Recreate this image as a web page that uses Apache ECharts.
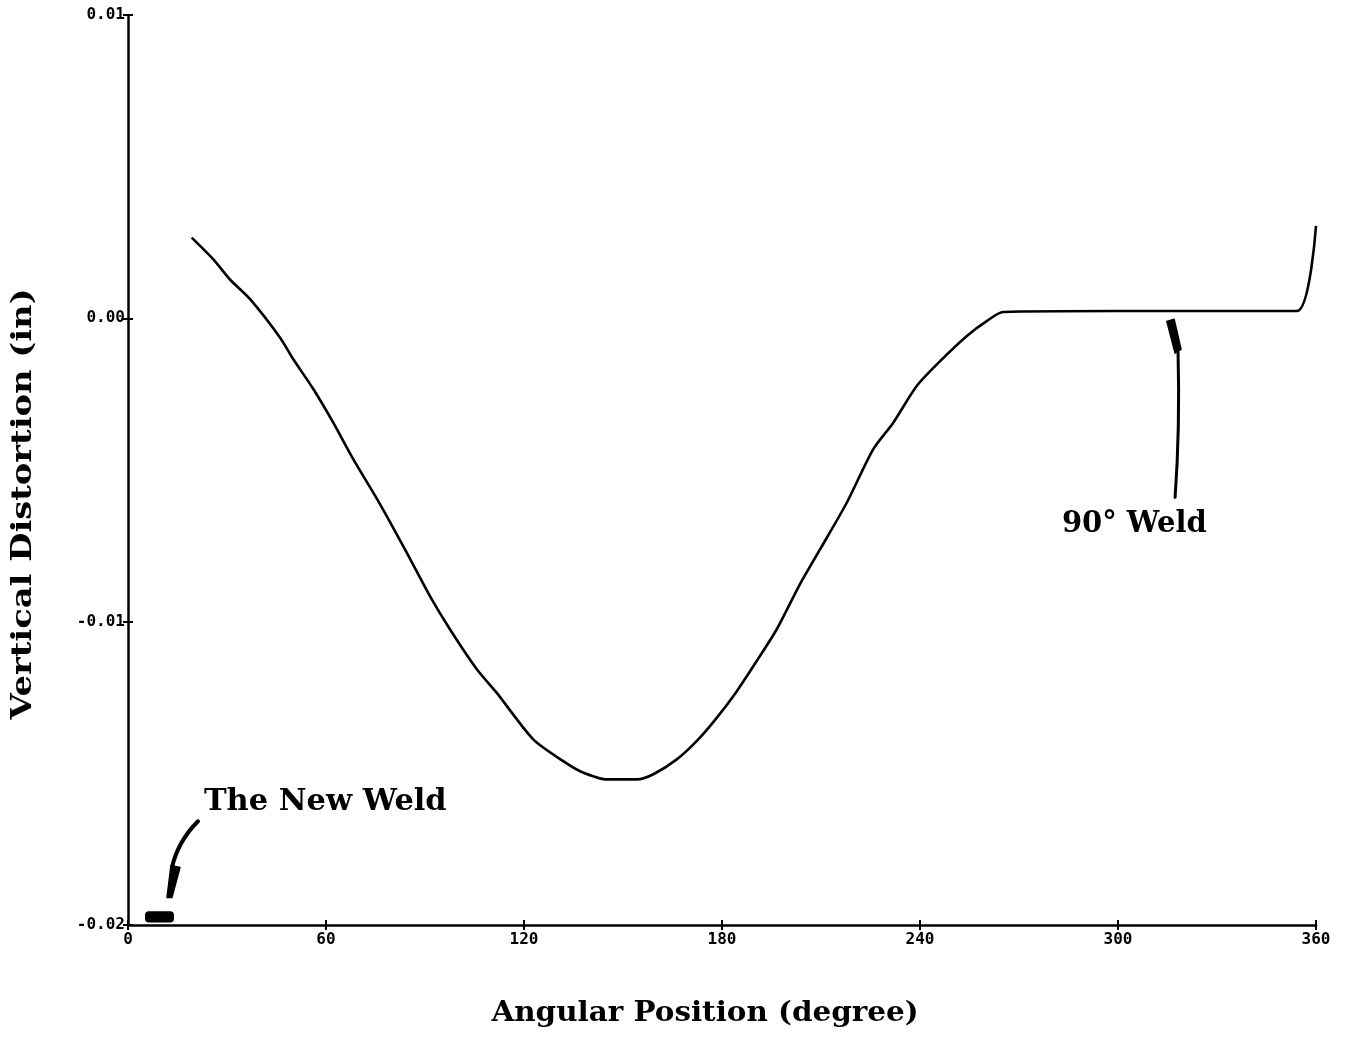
<!DOCTYPE html>
<html>
<head>
<meta charset="utf-8">
<title>Vertical Distortion vs Angular Position</title>
<script src="https://cdn.jsdelivr.net/npm/echarts@6/dist/echarts.min.js"></script>
<style>
  html, body { margin: 0; padding: 0; background: #fff; }
  #chart { width: 1346px; height: 1037px; }
</style>
</head>
<body>
<div id="chart"></div>
<script>
// Angular position (degree) of each sample along the weld
const angles = [
  19.3, 25.8, 30.9, 37.0, 46.1, 50.1, 56.2, 62.2, 68.3, 76.4,
  84.5, 91.5, 97.6, 105.7, 111.7, 122.8, 131.9, 137.0, 145.1, 154.2,
  159.2, 166.3, 172.3, 178.4, 184.5, 190.5, 196.6, 203.6, 209.7, 217.8,
  225.8, 231.9, 239.0, 246.1, 254.2, 260.2, 265.2, 300.0, 330.0, 354.2,
  360.0
];
// Vertical distortion (in) at each angular position
const distortion = [
  0.00266, 0.00195, 0.00128, 0.00063, -0.00064, -0.00135, -0.00234, -0.00344, -0.00465, -0.00613,
  -0.00773, -0.00916, -0.01026, -0.01157, -0.01234, -0.01388, -0.01460, -0.01493, -0.01520, -0.01520,
  -0.01503, -0.01454, -0.01394, -0.01317, -0.01229, -0.01130, -0.01025, -0.00877, -0.00762, -0.00608,
  -0.00432, -0.00344, -0.00223, -0.00141, -0.00058, -0.00009, 0.00021, 0.00024, 0.00024, 0.00024,
  0.00305
];

// Axis ranges and tick spacing
const xRange = [0, 360];
const xStep = 60;
const yRange = [-0.02, 0.01];
const yStep = 0.01;

// Axis titles
const xTitle = 'Angular Position (degree)';
const yTitle = 'Vertical Distortion (in)';

// Annotation anchors, in data units (degree, in)
const newWeldBar = [[5.15, -0.01955], [13.94, -0.01992]];
const newWeldArrow = [[21.2, -0.01658], [15.15, -0.01724], [13.33, -0.01810]];
const newWeldHead = [[13.03, -0.01804], [15.76, -0.01810], [13.33, -0.01909], [11.82, -0.01909]];
const newWeldText = [23.0, -0.01596];
const weld90Arrow = [[318.2, -0.00112], [318.8, -0.00366], [317.3, -0.00590]];
const weld90Head = [[314.8, -0.00010], [317.0, -0.00003], [319.1, -0.00102], [317.3, -0.00115]];
const weld90Text = [283.0, -0.00679];

const points = angles.map((a, i) => [a, distortion[i]]);

const tickFont = { fontFamily: 'DejaVu Sans Mono', fontWeight: 'bold', fontSize: 16, color: '#000' };
const axisLine = { show: true, onZero: false, lineStyle: { color: '#000', width: 2.5 } };
const hiddenLine = { show: false, onZero: false };

const chart = echarts.init(document.getElementById('chart'), null, { renderer: 'canvas' });

chart.setOption({
  animation: false,
  backgroundColor: '#fff',
  grid: { left: 128, right: 30, top: 15, bottom: 112 },
  xAxis: [{
    type: 'value', min: xRange[0], max: xRange[1], interval: xStep,
    axisLine: axisLine,
    axisTick: { show: true, inside: false, length: 5, lineStyle: { color: '#000', width: 2 } },
    axisLabel: Object.assign({ margin: 7, formatter: v => String(v) }, tickFont),
    splitLine: { show: false }
  }, {
    type: 'value', min: xRange[0], max: xRange[1], interval: xStep, position: 'bottom',
    axisLine: hiddenLine,
    axisTick: { show: true, inside: true, length: 5, lineStyle: { color: '#000', width: 2 } },
    axisLabel: { show: false }, splitLine: { show: false }
  }],
  yAxis: [{
    type: 'value', min: yRange[0], max: yRange[1], interval: yStep,
    axisLine: axisLine,
    axisTick: { show: true, inside: false, length: 5, lineStyle: { color: '#000', width: 2 } },
    axisLabel: Object.assign({ margin: 3, formatter: v => v.toFixed(2) }, tickFont),
    splitLine: { show: false }
  }, {
    type: 'value', min: yRange[0], max: yRange[1], interval: yStep, position: 'left',
    axisLine: hiddenLine,
    axisTick: { show: true, inside: true, length: 5, lineStyle: { color: '#000', width: 2 } },
    axisLabel: { show: false }, splitLine: { show: false }
  }],
  series: [{
    type: 'line',
    data: points,
    smooth: 0.25,
    symbol: 'none',
    lineStyle: { color: '#000', width: 2.6 }
  }]
});

// Annotation shapes placed through the grid's own coordinate system
const px = p => chart.convertToPixel({ gridIndex: 0 }, p);
const serifBold = { fontFamily: 'DejaVu Serif', fontWeight: 'bold', fill: '#000' };

const barA = px(newWeldBar[0]), barB = px(newWeldBar[1]);
const nwA = newWeldArrow.map(px);
const w9A = weld90Arrow.map(px);
const nwT = px(newWeldText), w9T = px(weld90Text);

chart.setOption({
  graphic: [
    // axis titles
    { type: 'text', x: 705, y: 1014, scaleX: 1.05,
      style: Object.assign({ text: xTitle, fontSize: 28, textAlign: 'center', textVerticalAlign: 'middle' }, serifBold) },
    { type: 'text', x: 24, y: 504, rotation: Math.PI / 2, scaleX: 1.25,
      style: Object.assign({ text: yTitle, fontSize: 27, textAlign: 'center', textVerticalAlign: 'middle' }, serifBold) },
    // the new weld
    { type: 'rect', shape: { x: barA[0], y: barA[1], width: barB[0] - barA[0], height: barB[1] - barA[1], r: 4 },
      style: { fill: '#000' } },
    { type: 'bezierCurve',
      shape: { x1: nwA[0][0], y1: nwA[0][1], cpx1: nwA[1][0], cpy1: nwA[1][1], x2: nwA[2][0], y2: nwA[2][1] },
      style: { stroke: '#000', lineWidth: 4, fill: null, lineCap: 'round' } },
    { type: 'polygon', shape: { points: newWeldHead.map(px) }, style: { fill: '#000', stroke: '#000', lineWidth: 1.5, lineJoin: 'round' } },
    { type: 'text', x: nwT[0], y: nwT[1], scaleX: 1.05,
      style: Object.assign({ text: 'The New Weld', fontSize: 29, textAlign: 'left', textVerticalAlign: 'middle' }, serifBold) },
    // the 90° weld
    { type: 'bezierCurve',
      shape: { x1: w9A[0][0], y1: w9A[0][1], cpx1: w9A[1][0], cpy1: w9A[1][1], x2: w9A[2][0], y2: w9A[2][1] },
      style: { stroke: '#000', lineWidth: 3, fill: null, lineCap: 'round' } },
    { type: 'polygon', shape: { points: weld90Head.map(px) }, style: { fill: '#000', stroke: '#000', lineWidth: 1.5, lineJoin: 'round' } },
    { type: 'text', x: w9T[0], y: w9T[1],
      style: Object.assign({ text: '90° Weld', fontSize: 29, textAlign: 'left', textVerticalAlign: 'middle' }, serifBold) }
  ]
});
</script>
</body>
</html>
